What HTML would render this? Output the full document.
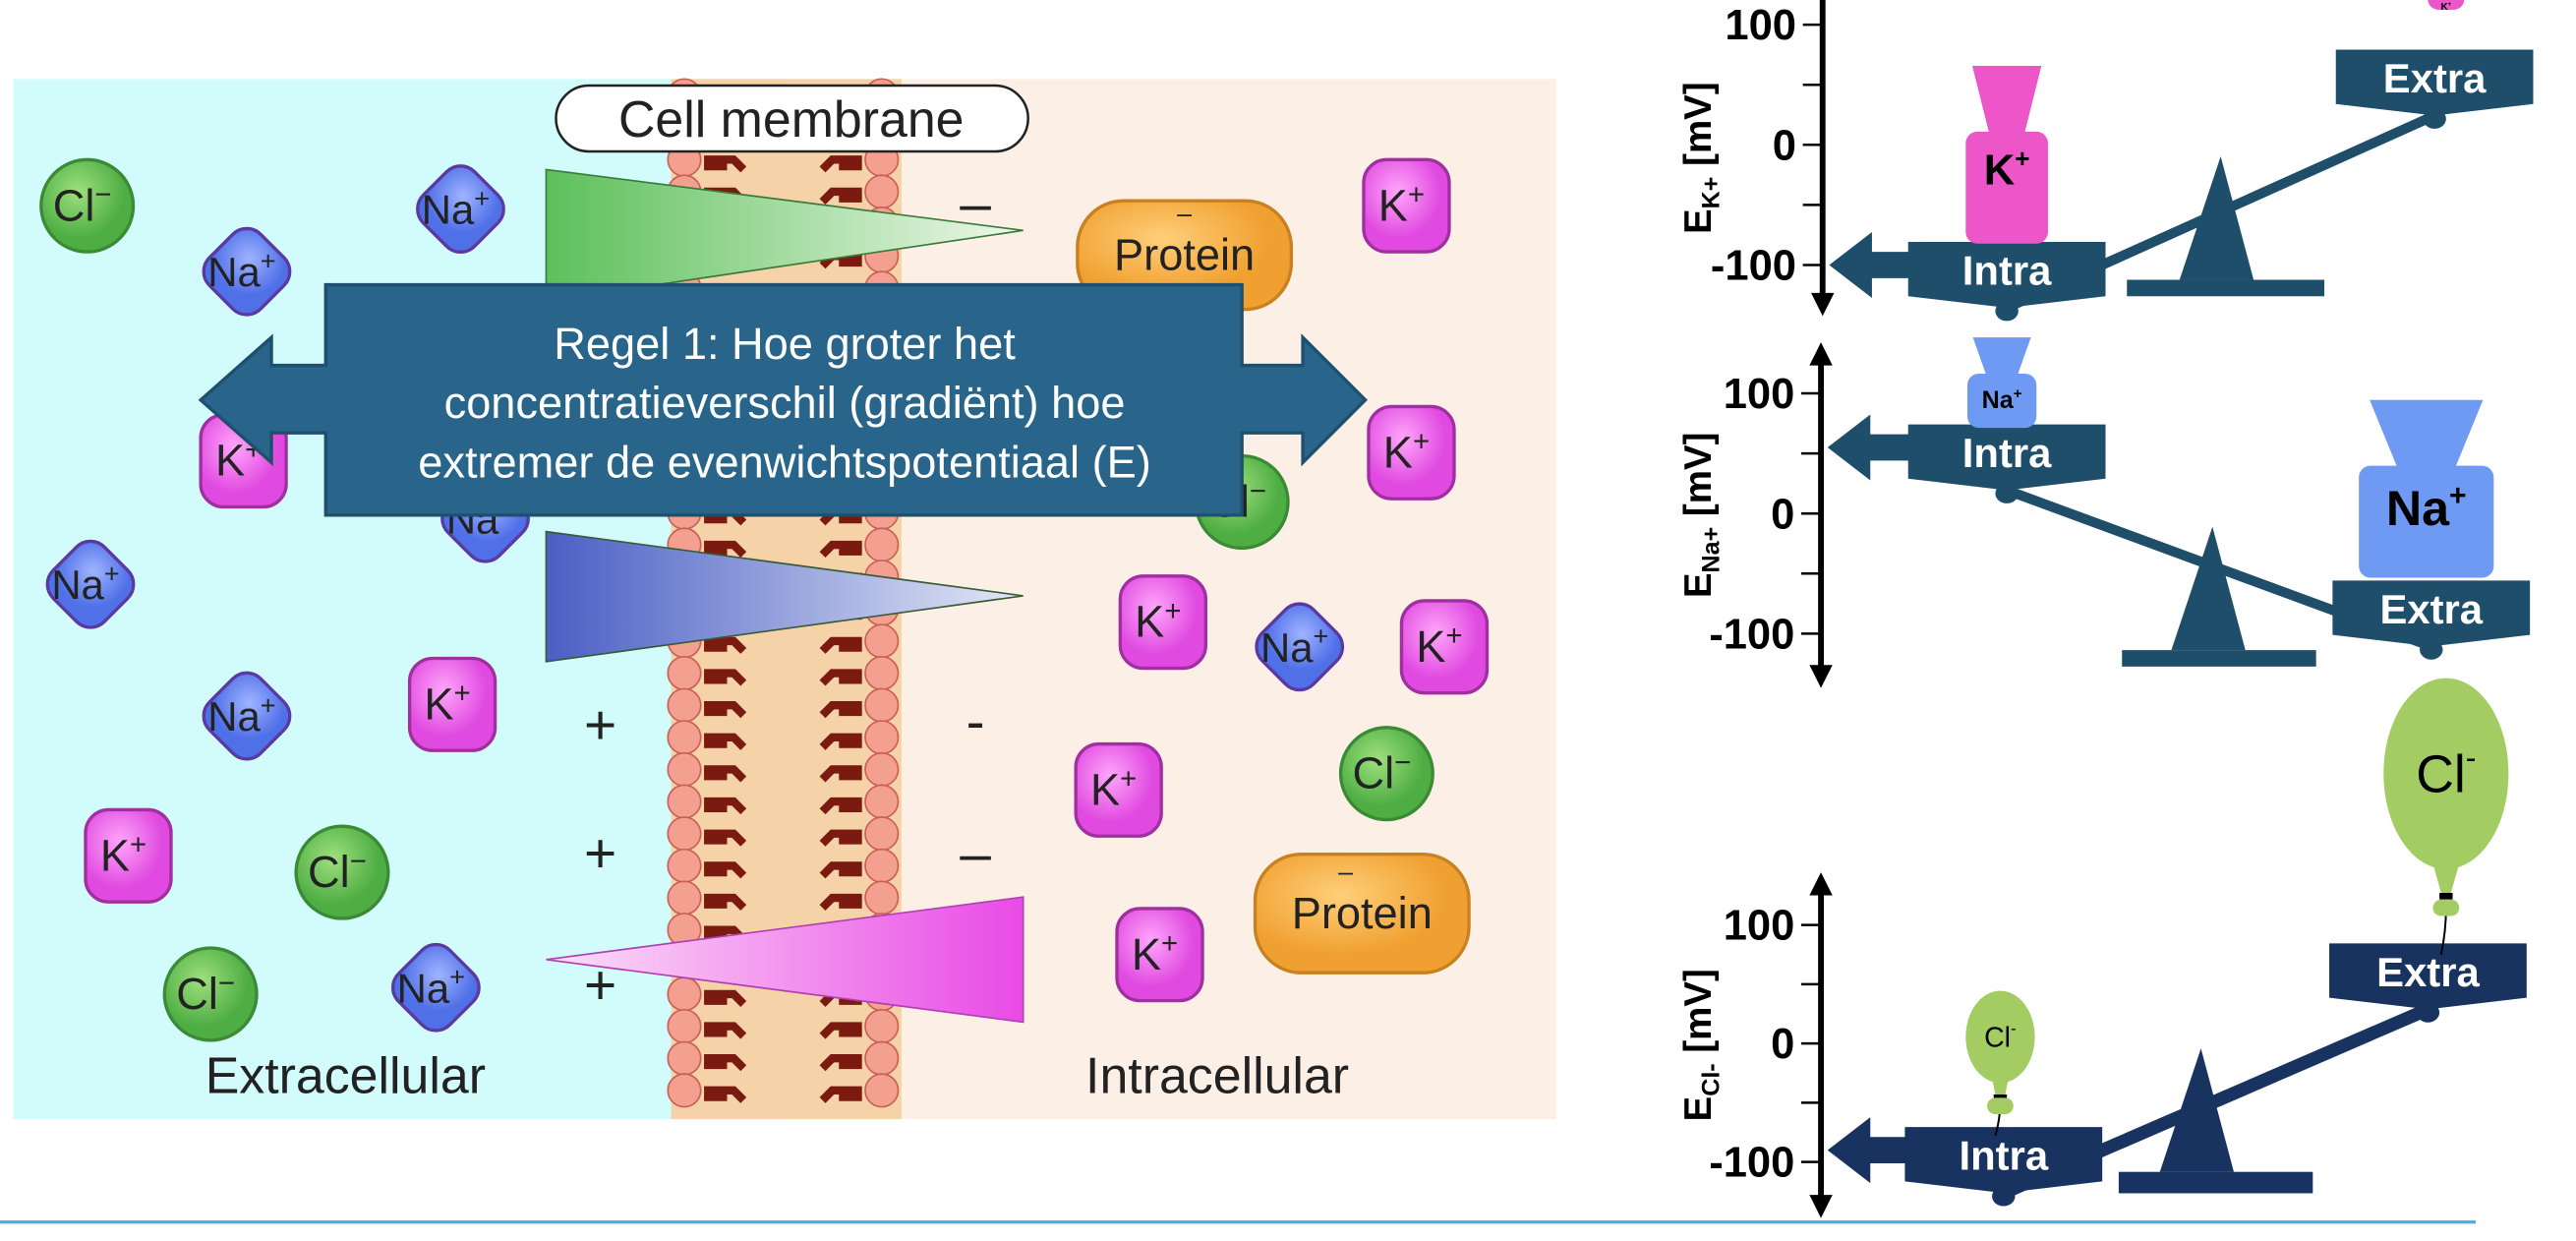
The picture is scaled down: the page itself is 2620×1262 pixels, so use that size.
<!DOCTYPE html>
<html><head><meta charset="utf-8">
<style>
html,body{margin:0;padding:0;background:#fff;}
svg{display:block;}
text{font-family:"Liberation Sans Narrow","Liberation Sans",sans-serif;}
</style></head>
<body>
<svg id="root" width="2620" height="1262" viewBox="0 0 1566 754" preserveAspectRatio="none" xmlns="http://www.w3.org/2000/svg">
<defs>
<linearGradient id="gG" x1="0" x2="1"><stop offset="0" stop-color="#5cc05a"/><stop offset="1" stop-color="#eef8ea"/></linearGradient>
<linearGradient id="gB" x1="0" x2="1"><stop offset="0" stop-color="#4a5fc4"/><stop offset="1" stop-color="#e4e8f6"/></linearGradient>
<linearGradient id="gP" x1="0" x2="1"><stop offset="0" stop-color="#fbe0f8"/><stop offset="1" stop-color="#e94ae6"/></linearGradient>
<radialGradient id="gCl" cx="0.4" cy="0.35"><stop offset="0" stop-color="#9ee07e"/><stop offset="1" stop-color="#4fae43"/></radialGradient>
<radialGradient id="gNa" cx="0.4" cy="0.35"><stop offset="0" stop-color="#9fb4ff"/><stop offset="1" stop-color="#5070e8"/></radialGradient>
<radialGradient id="gK" cx="0.4" cy="0.35"><stop offset="0" stop-color="#ffa6fb"/><stop offset="1" stop-color="#e04ae0"/></radialGradient>
<radialGradient id="gPr" cx="0.4" cy="0.35"><stop offset="0" stop-color="#ffcf7a"/><stop offset="1" stop-color="#f0a030"/></radialGradient>
</defs>

<g>
<rect x="8" y="48" width="470" height="632" fill="#d2fbfb"/>
<rect x="478" y="48" width="468" height="632" fill="#fcf0e6"/>
<rect x="408" y="48" width="140" height="632" fill="#f6d2a8"/>
<g id="membrane"></g>
<rect x="338" y="52" width="287" height="40" rx="20" fill="#fff" stroke="#222" stroke-width="1.5"/>
<text x="481" y="83" font-size="31" text-anchor="middle" fill="#222">Cell membrane</text>
<g id="ions"></g>
<polygon points="332,103 332,183 622,140" fill="url(#gG)" stroke="#3a7a3a" stroke-width="1"/>
<polygon points="332,323 332,402 622,362" fill="url(#gB)" stroke="#3a5a3a" stroke-width="1"/>
<polygon points="332,583 622,545 622,621" fill="url(#gP)" stroke="#b040b0" stroke-width="1"/>
<g font-size="34" fill="#222" text-anchor="middle">
<text x="365" y="452">+</text>
<text x="365" y="530">+</text>
<text x="365" y="610">+</text>
<text x="593" y="135">–</text>
<text x="593" y="450">-</text>
<text x="593" y="530">–</text>
</g>
<text x="210" y="664" font-size="31" text-anchor="middle" fill="#222">Extracellular</text>
<text x="740" y="664" font-size="31" text-anchor="middle" fill="#222">Intracellular</text>
<g>
<polygon points="122,243 165,205 165,222 198,222 198,173 755,173 755,222 792,222 792,205 830,243 792,281 792,263 755,263 755,313 198,313 198,263 165,263 165,281" fill="#29648a" stroke="#1f4f6e" stroke-width="2"/>
<g font-size="27" fill="#fff" text-anchor="middle">
<text x="477" y="218">Regel 1: Hoe groter het</text>
<text x="477" y="254">concentratieverschil (gradiënt) hoe</text>
<text x="477" y="290">extremer de evenwichtspotentiaal (E)</text>
</g>
</g>
</g>

<g id="scales"></g>
<line x1="0" y1="742.5" x2="1505" y2="742.5" stroke="#4aaed8" stroke-width="2"/>
</svg>
<script>
// chart data
const ticks=[100,50,0,-50,-100];
const tickLabels=["100","","0","","-100"];
const ions=["K+","Na+","Cl-"];
const equilibrium=[-100,55,-90];
const extraLevel=[60,-75,65];
const NS="http://www.w3.org/2000/svg";
const root=document.getElementById('root');
function mk(tag,attrs,parent){const e=document.createElementNS(NS,tag);for(const k in attrs)e.setAttribute(k,attrs[k]);(parent||root).appendChild(e);return e;}

const mem=document.getElementById('membrane');
for(let y=58;y<680;y+=19.5){
  for(const x of [416,536]){
    const c=mk('circle',{cx:x,cy:y,r:10,fill:'#f4a090',stroke:'#c86058','stroke-width':1},mem);
    
    
  }
  const t=mk('path',{d:`M428 ${y} h18 l6 6 M428 ${y+4} h14 M524 ${y} h-18 l-6 6 M524 ${y+4} h-14`,stroke:'#7a1a10','stroke-width':5,fill:'none'},mem);
  
  
}

const ionG=document.getElementById('ions');
const cls=[[53,125],[208,530],[128,604],[755,305],[843,470]];
const nas=[[280,127],[150,165],[295,315],[55,355],[150,435],[265,600],[790,393]];
const ks=[[148,280],[275,428],[78,520],[855,125],[858,275],[707,378],[878,393],[680,480],[705,580]];
function lbl(x,y,t,sup,fs){const tx=mk('text',{x:x-3,y:y+9,'font-size':fs||27,'text-anchor':'middle',fill:'#222'},ionG);tx.textContent=t;const s=mk('tspan',{'font-size':(fs||27)*0.65,dy:-10},tx);s.textContent=sup;return tx;}
cls.forEach(p=>{const c=mk('circle',{cx:p[0],cy:p[1],r:28,fill:'url(#gCl)',stroke:'#3b8a35','stroke-width':2},ionG);


lbl(p[0],p[1],'Cl','−');});
nas.forEach(p=>{const c=mk('rect',{x:p[0]-22,y:p[1]-22,width:44,height:44,rx:12,transform:`rotate(45 ${p[0]} ${p[1]})`,fill:'url(#gNa)',stroke:'#5a3aa0','stroke-width':2},ionG);


lbl(p[0],p[1],'Na','+',25);});
ks.forEach(p=>{const c=mk('rect',{x:p[0]-26,y:p[1]-28,width:52,height:56,rx:14,fill:'url(#gK)',stroke:'#a030a0','stroke-width':2},ionG);


lbl(p[0],p[1],'K','+');});
[[720,155,130,66],[828,555,130,72]].forEach(p=>{const r=mk('rect',{x:p[0]-p[2]/2,y:p[1]-p[3]/2,width:p[2],height:p[3],rx:28,fill:'url(#gPr)',stroke:'#c88020','stroke-width':2},ionG);


const t=mk('text',{x:p[0],y:p[1]+9,'font-size':27,'text-anchor':'middle',fill:'#222'},ionG);t.textContent='Protein';
const m=mk('text',{x:p[0]+(p[0]<800?0:-10),y:p[1]-20,'font-size':16,'text-anchor':'middle',fill:'#222'},ionG);m.textContent='–';});

const S=document.getElementById('scales');
const panels=[
 {ax:1108,top:0,bot:192,y100:15,y0:88,col:'#1f4e6b',up:false,label:'K+',intraX:1220,extraX:1480,fx:1350,fy:170,plate:[1293,170,120,10]},
 {ax:1107,top:208,bot:418,y100:239,y0:312,col:'#1f4e6b',up:true,label:'Na+',intraX:1220,extraX:1478,fx:1345,fy:395,plate:[1290,395,118,10]},
 {ax:1107,top:530,bot:740,y100:562,y0:634,col:'#18335f',up:true,label:'Cl-',intraX:1218,extraX:1476,fx:1338,fy:712,plate:[1288,712,118,13]}
];
function yScale(p,v){return p.y0-(p.y0-p.y100)*v/100;}
function platform(p,cx,topY,txt){
  const g=mk('g',{},S);
  
  
  mk('polygon',{points:`${cx-60},${topY} ${cx+60},${topY} ${cx+60},${topY+33} ${cx},${topY+40} ${cx-60},${topY+33}`,fill:p.col},g);
  mk('ellipse',{cx:cx,cy:topY+42,rx:7,ry:6,fill:p.col},g);
  const t=mk('text',{x:cx,y:topY+26,'font-size':25,'font-weight':'bold','text-anchor':'middle',fill:'#fff'},g);t.textContent=txt;
}
panels.forEach((p,i)=>{
  const g=mk('g',{},S);
  
  
  mk('line',{x1:p.ax,y1:p.top+(p.up?12:0),x2:p.ax,y2:p.bot-12,stroke:'#000','stroke-width':3.5},g);
  mk('polygon',{points:`${p.ax-7},${p.bot-14} ${p.ax+7},${p.bot-14} ${p.ax},${p.bot}`,fill:'#000'},g);
  if(p.up) mk('polygon',{points:`${p.ax-7},${p.top+14} ${p.ax+7},${p.top+14} ${p.ax},${p.top}`,fill:'#000'},g);
  ticks.forEach((v,j)=>{const y=yScale(p,v);
    const tk=mk('line',{x1:p.ax-12,y1:y,x2:p.ax,y2:y,stroke:'#000','stroke-width':1.5},g);
    
    
    if(tickLabels[j]){const t=mk('text',{x:p.ax-16,y:y+9,'font-size':26,'font-weight':'bold','text-anchor':'end',fill:'#000'},g);t.textContent=tickLabels[j];
    
    }
  });
  const cy=(p.top+p.bot)/2;
  const yl=mk('text',{x:0,y:0,'font-size':23,'font-weight':'bold','text-anchor':'middle',fill:'#000',transform:`translate(1040 ${cy}) rotate(-90)`,style:'font-family:"Liberation Sans",sans-serif'},g);
  
  
  yl.textContent='E';const sb=mk('tspan',{'font-size':15,dy:5},yl);sb.textContent=p.label;const rest=mk('tspan',{dy:-5},yl);rest.textContent=' [mV]';

  const iy=yScale(p,equilibrium[i]);
  const intraTop=iy-14, extraTop=yScale(p,extraLevel[i])-14;
  mk('polygon',{points:`${p.fx},${p.fy-75} ${p.fx+20},${p.fy} ${p.fx-25},${p.fy}`,fill:p.col},S);
  mk('rect',{x:p.plate[0],y:p.plate[1],width:p.plate[2],height:p.plate[3],fill:p.col},S);
  const bm=mk('line',{x1:p.intraX,y1:intraTop+40,x2:p.extraX,y2:extraTop+40,stroke:p.col,'stroke-width':i==2?8:6},S);
  
  
  const ar=mk('polygon',{points:`${p.ax+4},${iy} ${p.ax+30},${iy-20} ${p.ax+30},${iy-8} ${p.intraX-58},${iy-8} ${p.intraX-58},${iy+8} ${p.ax+30},${iy+8} ${p.ax+30},${iy+20}`,fill:p.col},S);
  
  
  platform(p,p.intraX,intraTop,'Intra');
  platform(p,p.extraX,extraTop,'Extra');
});

function bottle(cx,bodyTop,bodyH,w,col,txt,fs,neckH){
  const g=mk('g',{},S);
  
  
  mk('polygon',{points:`${cx-w*0.42},${bodyTop-neckH} ${cx+w*0.42},${bodyTop-neckH} ${cx+w*0.2},${bodyTop+4} ${cx-w*0.2},${bodyTop+4}`,fill:col},g);
  mk('rect',{x:cx-w/2,y:bodyTop,width:w,height:bodyH,rx:7,fill:col},g);
  const t=mk('text',{x:cx,y:bodyTop+fs+6,'font-size':fs,'font-weight':'bold','text-anchor':'middle',fill:'#000'},g);t.textContent=txt.replace('+','');
  const s=mk('tspan',{'font-size':fs*0.6,dy:-fs*0.4},t);s.textContent='+';
}
bottle(1220,80,68,50,'#ec56c8','K+',26,40);
bottle(1487,-6,12,22,'#ec56c8','K+',6,4);
bottle(1217,227,33,42,'#6f9af4','Na+',15,22);
bottle(1475,283,68,82,'#6f9af4','Na+',30,40);
function balloon(cx,cy,rx,ry,baseY,fs){
  const g=mk('g',{},S);
  
  
  mk('path',{d:`M${cx} ${cy+ry*1.4} Q${cx} ${(cy+ry*1.4+baseY)/2} ${cx-3} ${baseY}`,stroke:'#000','stroke-width':1.2,fill:'none'},g);
  mk('ellipse',{cx:cx,cy:cy,rx:rx,ry:ry,fill:'#a3cc62'},g);
  mk('polygon',{points:`${cx-rx*0.25},${cy+ry*0.85} ${cx+rx*0.25},${cy+ry*0.85} ${cx+3},${cy+ry*1.25} ${cx-3},${cy+ry*1.25}`,fill:'#a3cc62'},g);
  mk('rect',{x:cx-4,y:cy+ry*1.25,width:8,height:4,fill:'#000'},g);
  mk('rect',{x:cx-8,y:cy+ry*1.32,width:16,height:10,rx:5,fill:'#a3cc62'},g);
  const t=mk('text',{x:cx,y:cy+fs*0.35,'font-size':fs,'text-anchor':'middle',fill:'#000'},g);t.textContent='Cl';
  const s=mk('tspan',{'font-size':fs*0.6,dy:-fs*0.45},t);s.textContent='-';
}
balloon(1487,470,38,58,580,32);
balloon(1216,630,21,28,690,17);
</script>
</body></html>
